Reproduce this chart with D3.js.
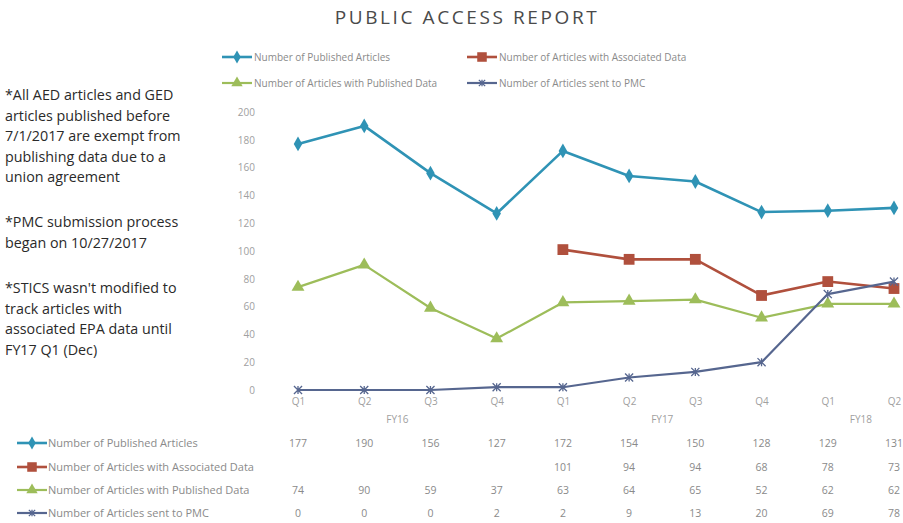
<!DOCTYPE html>
<html>
<head>
<meta charset="utf-8">
<script src="https://cdn.jsdelivr.net/npm/d3@7"></script>
<style>
	body { margin: 0; background: #fff; }
	svg { display: block; }
</style>
</head>
<body>
<svg id="chart"></svg>
<script>
'use strict'

var WIDTH = 903,
	HEIGHT = 523;

// data
var quarters = ["Q1", "Q2", "Q3", "Q4", "Q1", "Q2", "Q3", "Q4", "Q1", "Q2"];
var fiscalYears = [
	{ label: "FY16", from: 0, to: 3 },
	{ label: "FY17", from: 4, to: 7 },
	{ label: "FY18", from: 8, to: 9 }
];
var publishedArticles = [177, 190, 156, 127, 172, 154, 150, 128, 129, 131];
var associatedData = [null, null, null, null, 101, 94, 94, 68, 78, 73];
var publishedData = [74, 90, 59, 37, 63, 64, 65, 52, 62, 62];
var sentToPmc = [0, 0, 0, 2, 2, 9, 13, 20, 69, 78];
var yTicks = [0, 20, 40, 60, 80, 100, 120, 140, 160, 180, 200];

var notes = [
	["*All AED articles and GED", "articles published before", "7/1/2017 are exempt from", "publishing data due to a", "union agreement"],
	["*PMC submission process", "began on 10/27/2017"],
	["*STICS wasn't modified to", "track articles with", "associated EPA data until", "FY17 Q1 (Dec)"]
];

var series = [
	{ name: "Number of Published Articles", values: publishedArticles, color: "#2f93b5", marker: "diamond", width: 2.6 },
	{ name: "Number of Articles with Associated Data", values: associatedData, color: "#b0503d", marker: "square", width: 2.6 },
	{ name: "Number of Articles with Published Data", values: publishedData, color: "#9dbd5a", marker: "triangle", width: 2.2 },
	{ name: "Number of Articles sent to PMC", values: sentToPmc, color: "#56668f", marker: "star", width: 2.2 }
];

var axisColor = "#a0a0a0",
	labelFont = "'Open Sans', 'DejaVu Sans', sans-serif";

var svg = d3.select("#chart")
	.attr("width", WIDTH)
	.attr("height", HEIGHT)
	.style("font-family", labelFont);

// title
svg.append("text")
	.attr("x", 467)
	.attr("y", 24)
	.attr("text-anchor", "middle")
	.style("font-size", "19px")
	.style("letter-spacing", "2.6px")
	.style("fill", "#4a4a4a")
	.style("font-family", "'Open Sans', sans-serif")
	.text("PUBLIC ACCESS REPORT");

// scales
var x = d3.scalePoint()
	.domain(d3.range(quarters.length))
	.range([298, 894]);

var y = d3.scaleLinear()
	.domain([0, 200])
	.range([390, 112]);

// y tick labels, no axis line
var yAxis = svg.append("g")
	.attr("transform", "translate(255,0)")
	.call(d3.axisLeft(y).tickValues(yTicks).tickSize(0).tickPadding(0));
yAxis.select(".domain").remove();
yAxis.selectAll("text")
	.style("font-size", "10px")
	.style("fill", axisColor)
	.style("font-family", labelFont);

// quarter labels
var xAxis = svg.append("g")
	.attr("transform", "translate(0,392)")
	.call(d3.axisBottom(x).tickFormat(function(i) { return quarters[i] }).tickSize(0).tickPadding(6));
xAxis.select(".domain").remove();
xAxis.selectAll("text")
	.style("font-size", "10px")
	.style("fill", axisColor)
	.style("font-family", labelFont);

// fiscal year labels
svg.selectAll(".fy")
	.data(fiscalYears)
	.enter().append("text")
	.attr("class", "fy")
	.attr("x", function(d) { return (x(d.from) + x(d.to)) / 2 })
	.attr("y", 423)
	.attr("text-anchor", "middle")
	.style("font-size", "10px")
	.style("fill", axisColor)
	.text(function(d) { return d.label });

// marker drawing
function drawMarker(g, type, color, size) {
	if (type === "diamond") {
		g.append("path")
			.attr("d", d3.symbol(d3.symbolDiamond, size * 7)())
			.style("fill", color);
	} else if (type === "square") {
		g.append("path")
			.attr("d", d3.symbol(d3.symbolSquare, size * 13)())
			.style("fill", color);
	} else if (type === "triangle") {
		g.append("path")
			.attr("d", d3.symbol(d3.symbolTriangle, size * 8)())
			.style("fill", color);
	} else {
		var r = size * 0.45;
		g.append("path")
			.attr("d", "M" + (-r) + "," + (-r) + "L" + r + "," + r + "M" + (-r) + "," + r + "L" + r + "," + (-r) + "M0," + (-r) + "L0," + r)
			.style("stroke", color)
			.style("stroke-width", 1.3)
			.style("fill", "none");
	}
}

// lines + markers
var line = d3.line()
	.defined(function(d) { return d != null })
	.x(function(d, i) { return x(i) })
	.y(function(d) { return y(d) });

series.forEach(function(s) {
	svg.append("path")
		.datum(s.values)
		.attr("d", line)
		.style("fill", "none")
		.style("stroke", s.color)
		.style("stroke-width", s.width)
		.style("stroke-linejoin", "round");

	s.values.forEach(function(v, i) {
		if (v == null) return;
		var g = svg.append("g")
			.attr("transform", "translate(" + x(i) + "," + y(v) + ")");
		drawMarker(g, s.marker, s.color, 9);
	});
});

// top legend (two rows of two)
var legendPos = [[222, 57], [467, 57], [222, 83], [467, 83]];
series.forEach(function(s, i) {
	var g = svg.append("g")
		.attr("transform", "translate(" + legendPos[i][0] + "," + legendPos[i][1] + ")");
	g.append("line")
		.attr("x1", 0).attr("x2", 30)
		.style("stroke", s.color)
		.style("stroke-width", s.width);
	var m = g.append("g").attr("transform", "translate(15,0)");
	drawMarker(m, s.marker, s.color, 7);
	g.append("text")
		.attr("x", 32)
		.attr("dy", "0.35em")
		.style("font-size", "10px")
		.style("fill", "#8a8a8a")
		.text(s.name);
});

// data table underneath
var rowY = [443, 467, 490, 513];
series.forEach(function(s, r) {
	var g = svg.append("g")
		.attr("transform", "translate(17," + rowY[r] + ")");
	g.append("line")
		.attr("x1", 0).attr("x2", 30)
		.style("stroke", s.color)
		.style("stroke-width", s.width);
	drawMarker(g.append("g").attr("transform", "translate(15,0)"), s.marker, s.color, 7);
	g.append("text")
		.attr("x", 31)
		.attr("dy", "0.35em")
		.style("font-size", "11px")
		.style("fill", "#8a8a8a")
		.text(s.name);

	svg.selectAll(".cell" + r)
		.data(s.values)
		.enter().append("text")
		.attr("class", "cell" + r)
		.attr("x", function(d, i) { return x(i) })
		.attr("y", rowY[r])
		.attr("dy", "0.35em")
		.attr("text-anchor", "middle")
		.style("font-size", "10.5px")
		.style("fill", "#8a8a8a")
		.text(function(d) { return d == null ? "" : d });
});

// side notes
var noteTop = [95, 222, 288];
notes.forEach(function(block, b) {
	svg.append("g")
		.selectAll("text")
		.data(block)
		.enter().append("text")
		.attr("x", 5)
		.attr("y", function(d, i) { return noteTop[b] + i * 20.6 })
		.attr("dy", "0.35em")
		.style("font-size", "14.3px")
		.style("fill", "#2a2a2a")
		.style("font-family", "'Open Sans', sans-serif")
		.text(function(d) { return d });
});
</script>
</body>
</html>
